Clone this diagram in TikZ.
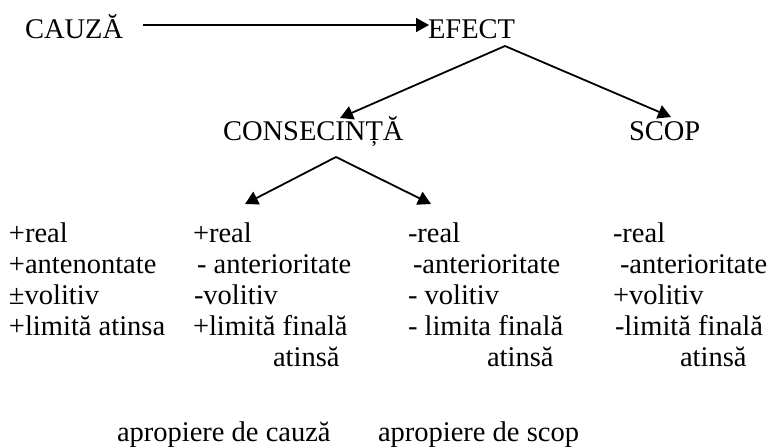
\documentclass[tikz,border=0pt]{standalone}
\usepackage{fontspec}
\setmainfont{Liberation Serif}
\usetikzlibrary{arrows.meta}
\begin{document}
\begin{tikzpicture}[x=1pt,y=-1pt,
  txt/.style={anchor=base west,inner sep=0pt,outer sep=0pt,font=\fontsize{28.5}{31.5}\selectfont},
  arr/.style={line width=1.8pt,-{Triangle[length=13pt,width=14pt]}}]
\useasboundingbox (0,0) rectangle (772,447);
\node[txt] (cauza) at (25,38) {CAUZĂ};
\node[txt] (efect) at (428,38) {EFECT};
\node[txt] (cons) at (223,140) {CONSECINȚĂ};
\node[txt] (scop) at (629,140) {SCOP};
% column texts
\node[txt] (c1a) at (9,242) {+real};
\node[txt] (c1b) at (9,273) {+antenontate};
\node[txt] (c1c) at (9,304) {±volitiv};
\node[txt] (c1d) at (9,335) {+limită atinsa};
\node[txt] (c2a) at (193,242) {+real};
\node[txt] (c2b) at (197,273) {- anterioritate};
\node[txt] (c2c) at (194,304) {-volitiv};
\node[txt] (c2d) at (193,335) {+limită finală};
\node[txt] (c2e) at (273,366) {atinsă};
\node[txt] (c3a) at (408,242) {-real};
\node[txt] (c3b) at (413,273) {-anterioritate};
\node[txt] (c3c) at (408,304) {- volitiv};
\node[txt] (c3d) at (408,335) {- limita finală};
\node[txt] (c3e) at (487,366) {atinsă};
\node[txt] (c4a) at (613,242) {-real};
\node[txt] (c4b) at (620,273) {-anterioritate};
\node[txt] (c4c) at (613,304) {+volitiv};
\node[txt] (c4d) at (615,335) {-limită finală};
\node[txt] (c4e) at (680,366) {atinsă};
\node[txt] (ap1) at (117,441) {apropiere de cauză};
\node[txt] (ap2) at (378,441) {apropiere de scop};
% connector ends
\coordinate (s1) at (143,25);
\coordinate (t1) at (429,25);
\coordinate (s2) at (505,46);
\coordinate (t2) at (340,118);
\coordinate (t3) at (671,117);
\coordinate (s4) at (336,157);
\coordinate (t4) at (245,204);
\coordinate (t5) at (431,204);
\draw[arr] (s1) -- (t1);
\draw[arr] (s2) -- (t2);
\draw[arr] (s2) -- (t3);
\draw[arr] (s4) -- (t4);
\draw[arr] (s4) -- (t5);
\end{tikzpicture}
\end{document}
